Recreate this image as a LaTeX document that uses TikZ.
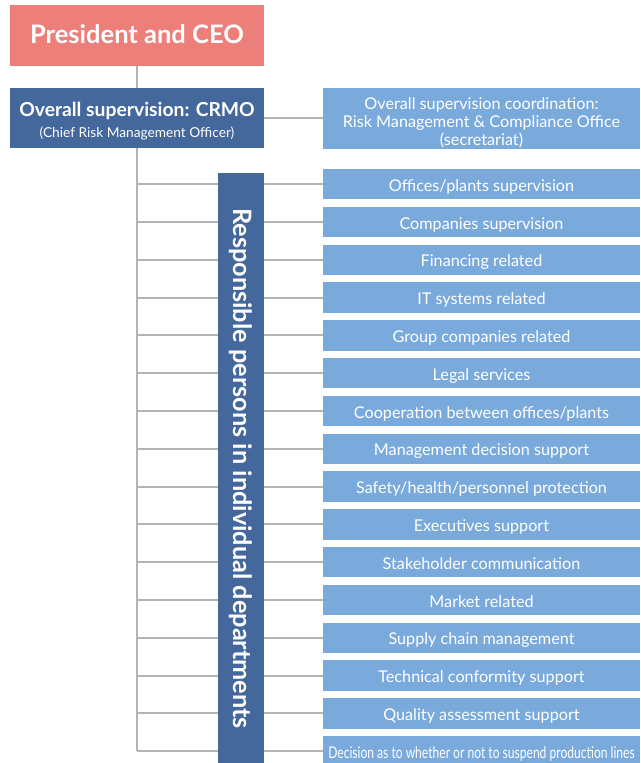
\documentclass[tikz,border=0pt]{standalone}
\usepackage{fontspec}
\usepackage{graphicx}
\setmainfont{Lato}
\usetikzlibrary{positioning,backgrounds}

\definecolor{ceopink}{RGB}{237,127,123}
\definecolor{headblue}{RGB}{68,103,156}
\definecolor{deptblue}{RGB}{122,170,219}
\definecolor{linkgray}{RGB}{180,180,180}

\tikzset{
	headbox/.style={fill=headblue, text=white, inner sep=0pt, align=center,
		minimum width=254pt, minimum height=60pt},
	ceobox/.style={headbox, fill=ceopink, minimum height=61pt,
		text height=15.6pt, text depth=0pt,
		font=\fontsize{25.5}{30}\selectfont\bfseries},
	deptbox/.style={fill=deptblue, text=white, inner sep=0pt, align=center,
		minimum width=317pt, minimum height=30.5pt,
		text height=14pt, text depth=0pt,
		font=\fontsize{16.2}{18}\selectfont},
	link/.style={draw=linkgray, line width=2pt}
}

\begin{document}
\begin{tikzpicture}[x=1pt, y=-1pt]
	%%%%% START %%%%%
	\useasboundingbox (0, 0) rectangle (640, 763);
	
	% top of the chart
	\node[ceobox] (ceo) at (137, 35.5) {President and CEO};
	\node[headbox, text height=12pt, text depth=16pt,
		font=\fontsize{13.7}{16}\selectfont] (crmo) at (137, 118)
		{\begin{tabular}[t]{@{}c@{}}
			{\fontsize{19.3}{22}\selectfont\bfseries Overall supervision: CRMO}\\[5pt]
			(Chief Risk Management Officer)
		\end{tabular}};
	\node[deptbox, minimum height=61pt, text height=12.6pt, text depth=30pt]
		(office) at (481.5, 118)
		{\begin{tabular}[t]{@{}c@{}}
			Overall supervision coordination:\\
			Risk Management \& Compliance Office\\
			(secretariat)
		\end{tabular}};
	
	% the column of departments
	\node[headbox, rotate=-90, minimum width=591pt, minimum height=46pt,
		font=\fontsize{25.3}{29}\selectfont\bfseries] (resp) at (241, 468.5)
		{Responsible persons in individual departments};
	
	\foreach \txt [count=\i from 0] in {
		Offices/plants supervision,
		Companies supervision,
		Financing related,
		IT systems related,
		Group companies related,
		Legal services,
		Cooperation between offices/plants,
		Management decision support,
		Safety/health/personnel protection,
		Executives support,
		Stakeholder communication,
		Market related,
		Supply chain management,
		Technical conformity support,
		Quality assessment support,
		{\scalebox{0.745}[1]{Decision as to whether or not to suspend production lines}}}
		\node[deptbox] (dept\i) at (481.5, {184.2+37.8*\i}) {\txt};
	
	% connectors behind the boxes
	\begin{scope}[on background layer]
		\draw[link] (ceo.south) -- (ceo.south |- dept15.west);
		\draw[link] (crmo.east) -- (office.west);
		\foreach \i in {0,...,15}
			\draw[link] (ceo.south |- dept\i.west) -- (dept\i.west);
	\end{scope}
	
	%%%%% END %%%%%
\end{tikzpicture}
\end{document}
